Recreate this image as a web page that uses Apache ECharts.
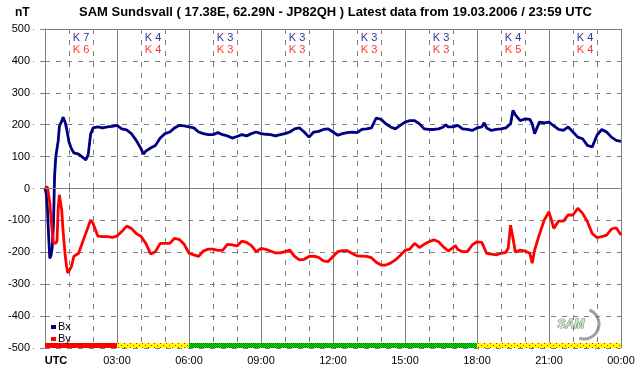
<!DOCTYPE html>
<html>
<head>
<meta charset="utf-8">
<script src="https://cdn.jsdelivr.net/npm/echarts@6/dist/echarts.min.js"></script>
<style>
  html, body { margin: 0; padding: 0; background: #fff; }
  #chart { width: 642px; height: 376px; }
</style>
</head>
<body>
<div id="chart"></div>
<script>
// hours since 00:00 UTC and field values in nT
const bxHours = [0, 0.05, 0.1, 0.15, 0.2, 0.25, 0.3, 0.35, 0.4, 0.45, 0.5, 0.55, 0.6, 0.65, 0.7, 0.75, 0.8, 0.85, 0.9, 0.95,
  1.0, 1.1, 1.2, 1.4, 1.6, 1.7, 1.8, 1.9, 2.0, 2.2, 2.4, 2.6, 2.8, 3.0, 3.2, 3.4, 3.6, 3.8, 4.0, 4.1, 4.2, 4.4, 4.6, 4.8,
  5.0, 5.2, 5.4, 5.6, 5.8, 6.0, 6.2, 6.4, 6.6, 6.8, 7.0, 7.2, 7.4, 7.6, 7.8, 8.0, 8.2, 8.4, 8.6, 8.8,
  9.0, 9.2, 9.4, 9.6, 9.8, 10.0, 10.2, 10.4, 10.6, 10.8, 11.0, 11.2, 11.4, 11.6, 11.8, 12.0, 12.2, 12.4, 12.6, 12.8,
  13.0, 13.2, 13.4, 13.6, 13.8, 14.0, 14.2, 14.4, 14.6, 14.8, 15.0, 15.2, 15.4, 15.6, 15.8, 16.0, 16.2, 16.4, 16.6, 16.7, 16.8,
  17.0, 17.2, 17.4, 17.6, 17.8, 18.0, 18.2, 18.3, 18.4, 18.6, 18.8, 19.0, 19.2, 19.4, 19.5, 19.6, 19.8,
  20.0, 20.2, 20.3, 20.4, 20.6, 20.8, 21.0, 21.2, 21.4, 21.6, 21.8, 22.0, 22.2, 22.4, 22.6, 22.8, 23.0, 23.2, 23.4, 23.6, 23.8, 24.0];
const bxValues = [0, -15, -62, -146, -219, -210, -185, -120, 40, 100, 102, 150, 195, 198, 212, 224, 220, 205, 187, 167,
  146, 125, 112, 108, 96, 90, 106, 170, 190, 193, 190, 193, 195, 198, 187, 184, 172, 151, 125, 108, 117, 127, 135, 158,
  172, 177, 190, 198, 196, 193, 190, 177, 172, 169, 169, 175, 169, 165, 158, 163, 169, 165, 172, 177,
  172, 170, 169, 165, 169, 172, 177, 187, 190, 177, 161, 177, 179, 185, 187, 177, 167, 172, 175, 177,
  175, 185, 187, 190, 221, 217, 203, 193, 187, 198, 208, 213, 213, 203, 187, 185, 185, 187, 193, 200, 193,
  193, 198, 187, 185, 182, 190, 193, 206, 190, 182, 185, 187, 190, 203, 245, 231, 213,
  218, 217, 203, 172, 208, 206, 208, 196, 185, 182, 193, 177, 161, 156, 135, 130, 167, 185, 177, 161, 151, 148];

const byHours = [0, 0.05, 0.1, 0.15, 0.2, 0.25, 0.3, 0.35, 0.4, 0.45, 0.5, 0.55, 0.6, 0.65, 0.7, 0.75, 0.8, 0.85, 0.9, 0.95,
  1.0, 1.1, 1.2, 1.4, 1.6, 1.8, 1.9, 2.0, 2.2, 2.4, 2.6, 2.8, 3.0, 3.2, 3.4, 3.6, 3.8, 4.0, 4.2, 4.4, 4.6, 4.8,
  5.0, 5.2, 5.4, 5.6, 5.8, 6.0, 6.2, 6.4, 6.6, 6.8, 7.0, 7.2, 7.4, 7.6, 7.8, 8.0, 8.2, 8.4, 8.6, 8.8,
  9.0, 9.2, 9.4, 9.6, 9.8, 10.0, 10.2, 10.4, 10.6, 10.8, 11.0, 11.2, 11.4, 11.6, 11.8, 12.0, 12.2, 12.4, 12.6, 12.8,
  13.0, 13.2, 13.4, 13.6, 13.8, 14.0, 14.2, 14.4, 14.6, 14.8, 15.0, 15.2, 15.4, 15.6, 15.8, 16.0, 16.2, 16.4, 16.6, 16.8,
  17.0, 17.1, 17.2, 17.4, 17.6, 17.8, 18.0, 18.2, 18.4, 18.6, 18.8, 19.0, 19.2, 19.3, 19.4, 19.5, 19.6, 19.8,
  20.0, 20.2, 20.3, 20.4, 20.6, 20.8, 21.0, 21.2, 21.4, 21.6, 21.8, 22.0, 22.2, 22.4, 22.6, 22.8, 23.0, 23.2, 23.4, 23.6, 23.8, 24.0];
const byValues = [2, 3, 5, 6, -45, -90, -135, -170, -172, -172, -165, -60, -20, -25, -70, -130, -175, -215, -245, -265,
  -270, -245, -213, -203, -161, -120, -99, -109, -149, -151, -151, -153, -149, -135, -118, -125, -141, -150, -172, -205, -198, -172,
  -172, -172, -156, -160, -175, -203, -208, -213, -196, -190, -190, -194, -194, -175, -177, -180, -165, -169, -179, -198,
  -188, -191, -196, -202, -202, -198, -193, -213, -224, -222, -213, -212, -216, -227, -229, -213, -198, -195, -195, -204,
  -211, -212, -213, -217, -231, -240, -240, -234, -224, -210, -194, -190, -172, -185, -175, -167, -161, -167, -183, -196,
  -185, -179, -191, -198, -198, -177, -167, -169, -203, -206, -208, -203, -200, -187, -115, -156, -200, -193,
  -196, -203, -234, -193, -144, -99, -73, -125, -102, -102, -83, -83, -62, -78, -104, -141, -154, -151, -146, -127, -123, -146];

// K indices per 3-hour block
const kBx = [7, 4, 3, 3, 3, 3, 4, 4];
const kBy = [6, 4, 3, 3, 3, 3, 5, 4];

const titleText = 'SAM Sundsvall ( 17.38E, 62.29N - JP82QH ) Latest data from 19.03.2006 / 23:59 UTC';
const font = '"Liberation Sans", Arial, sans-serif';
const grey = '#808080';

function pattern(w, h, bg, fg, dots) {
  const c = document.createElement('canvas');
  c.width = w; c.height = h;
  const ctx = c.getContext('2d');
  ctx.fillStyle = bg; ctx.fillRect(0, 0, w, h);
  ctx.fillStyle = fg;
  dots.forEach(d => ctx.fillRect(d[0], d[1], 1, 1));
  return { image: c, repeat: 'repeat' };
}
const bandRed = '#ff0000';
const bandYellow = pattern(6, 4, '#ffff00', '#ff0000', [[1, 1], [4, 3]]);
const bandGreen = pattern(2, 2, '#00f000', '#007800', [[0, 0], [1, 1]]);

// colour of the bottom strip follows the larger K of the block
const bands = kBx.map((k, i) => {
  const m = Math.max(k, kBy[i]);
  const color = m >= 6 ? bandRed : (m >= 4 ? bandYellow : bandGreen);
  return [{ xAxis: i * 3, yAxis: -500, itemStyle: { color: color } }, { xAxis: i * 3 + 3, yAxis: -484 }];
});

const pad = n => (n < 10 ? '0' : '') + n;

const chart = echarts.init(document.getElementById('chart'));
chart.setOption({
  animation: false,
  backgroundColor: '#fff',
  textStyle: { fontFamily: font },
  grid: { left: 45, right: 21, top: 29, bottom: 28 },
  legend: {
    data: ['Bx', 'By'],
    orient: 'vertical',
    left: 46, top: 316,
    icon: 'rect', itemWidth: 5, itemHeight: 4, itemGap: 0,
    textStyle: { fontSize: 11, color: '#000', fontFamily: font, padding: [0, 0, 0, -3], lineHeight: 12 }
  },
  graphic: [
    { type: 'text', left: 15, top: 7, style: { text: 'nT', font: 'bold 12px ' + font, fill: '#000' } },
    { type: 'text', left: 79, top: 6, style: { text: titleText, font: 'bold 13px ' + font, fill: '#000' } },
    { type: 'arc', shape: { cx: 584, cy: 324, r: 15, startAngle: -1.2, endAngle: 1.9 },
      style: { stroke: '#a0a0a0', lineWidth: 3, fill: null } },
    { type: 'text', left: 557, top: 318, style: { text: 'SAM', font: 'italic bold 12px ' + font, fill: '#c8ecc8', stroke: '#7a7a7a', lineWidth: 1 } }
  ],
  xAxis: {
    type: 'value', min: 0, max: 24, interval: 3,
    axisLine: { lineStyle: { color: grey } },
    axisTick: { length: 4, lineStyle: { color: grey } },
    minorTick: { show: true, splitNumber: 3, length: 4, lineStyle: { color: grey } },
    splitLine: { show: true, lineStyle: { color: grey, width: 1 } },
    minorSplitLine: { show: true, lineStyle: { color: grey, type: [5, 6] } },
    axisLabel: {
      fontSize: 11, color: '#000', margin: 7,
      formatter: v => v === 0 ? '{utc|UTC}' : pad(v % 24) + ':00',
      rich: { utc: { fontWeight: 'bold', fontSize: 11, padding: [0, 0, 0, 22] } }
    }
  },
  yAxis: {
    type: 'value', min: -500, max: 500, interval: 100,
    axisLine: { show: true, lineStyle: { color: grey } },
    axisTick: { show: true, length: 12, lineStyle: { color: grey, type: [5, 6] } },
    splitLine: { lineStyle: { color: grey, type: [5, 6] } },
    axisLabel: { fontSize: 11, color: '#000', margin: 15 }
  },
  series: [
    {
      name: 'frame', type: 'line', data: [], z: 1, silent: true,
      markLine: {
        silent: true, symbol: 'none', label: { show: false },
        lineStyle: { color: grey, type: 'solid', width: 1 },
        data: [{ yAxis: 0 }, { yAxis: 500 }]
      },
      markArea: { silent: true, data: bands }
    },
    {
      name: 'Bx', type: 'line', showSymbol: false, color: '#000080',
      lineStyle: { width: 2.8, color: '#000080' },
      data: bxHours.map((h, i) => [h, bxValues[i]])
    },
    {
      name: 'By', type: 'line', showSymbol: false, color: '#ff0000',
      lineStyle: { width: 2.8, color: '#ff0000' },
      data: byHours.map((h, i) => [h, byValues[i]])
    },
    {
      name: 'kBx', type: 'scatter', symbolSize: 0, silent: true,
      label: { show: true, position: 'inside', fontSize: 11, color: '#000080', formatter: p => 'K ' + kBx[p.dataIndex] },
      data: kBx.map((k, i) => [i * 3 + 1.5, 473])
    },
    {
      name: 'kBy', type: 'scatter', symbolSize: 0, silent: true,
      label: { show: true, position: 'inside', fontSize: 11, color: '#ff0000', formatter: p => 'K ' + kBy[p.dataIndex] },
      data: kBy.map((k, i) => [i * 3 + 1.5, 435])
    }
  ]
});
</script>
</body>
</html>
